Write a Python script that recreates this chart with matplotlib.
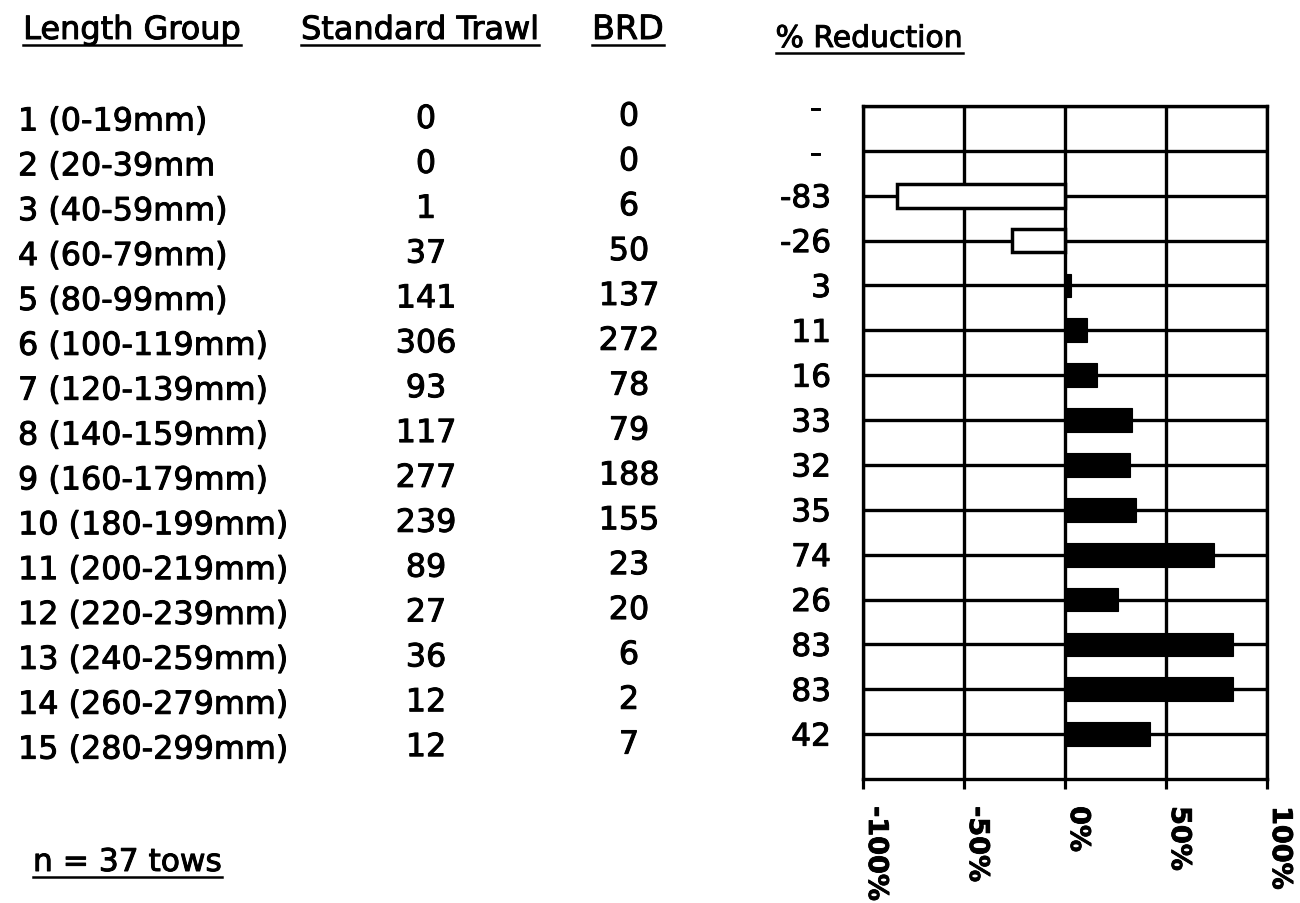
import numpy as np
import matplotlib
matplotlib.use("Agg")
import matplotlib.pyplot as plt
from matplotlib import transforms
from matplotlib import patheffects as pe
from matplotlib.lines import Line2D

# ---- data -------------------------------------------------------------
length_groups = [
    "1 (0-19mm)", "2 (20-39mm", "3 (40-59mm)", "4 (60-79mm)", "5 (80-99mm)",
    "6 (100-119mm)", "7 (120-139mm)", "8 (140-159mm)", "9 (160-179mm)",
    "10 (180-199mm)", "11 (200-219mm)", "12 (220-239mm)", "13 (240-259mm)",
    "14 (260-279mm)", "15 (280-299mm)",
]
standard_trawl = [0, 0, 1, 37, 141, 306, 93, 117, 277, 239, 89, 27, 36, 12, 12]
brd_catch = [0, 0, 6, 50, 137, 272, 78, 79, 188, 155, 23, 20, 6, 2, 7]
pct_reduction = [np.nan, np.nan, -83, -26, 3, 11, 16, 33, 32, 35, 74, 26, 83, 83, 42]
x_ticks = [-100, -50, 0, 50, 100]
x_tick_labels = ["-100%", "-50%", "0%", "50%", "100%"]
sample_note = "n = 37 tows"

# ---- figure -----------------------------------------------------------
W, H, DPI = 1300, 904, 100
plt.rcParams["font.family"] = ["DejaVu Sans"]
fig = plt.figure(figsize=(W / DPI, H / DPI), dpi=DPI)
fig.patch.set_facecolor("white")

heavy = [pe.withStroke(linewidth=0.7, foreground="black")]


def fx(px):
    return px / W


def fy(py):
    return 1 - py / H


# bar chart panel
left, right, top, bottom = 863, 1267, 107, 780
ax = fig.add_axes([fx(left), fy(bottom), (right - left) / W, (bottom - top) / H])

rows = np.arange(1, len(length_groups) + 1)
vals = np.array(pct_reduction, dtype=float)
ok = np.isfinite(vals)
neg = ok & (vals < 0)
pos = ok & (vals >= 0)

ax.barh(rows[neg], vals[neg], height=0.53, color="white", edgecolor="black",
        linewidth=2.5, zorder=3)
ax.barh(rows[pos], vals[pos], height=0.53, color="black", edgecolor="black",
        linewidth=0.8, zorder=3)

ax.set_xlim(-100, 100)
ax.set_ylim(len(length_groups) + 1, 1)
ax.set_xticks(x_ticks)
ax.set_xticklabels(x_tick_labels, rotation=-90, fontsize=19.5, fontweight="bold")
ax.set_yticks(rows)
ax.set_yticklabels(["- " if not np.isfinite(v) else f"{v:.0f}" for v in vals],
                   fontsize=22.5)
ax.tick_params(axis="y", length=0, pad=23)
ax.tick_params(axis="x", direction="out", length=7.5, width=2.3, pad=12)
ax.grid(True, color="black", linewidth=2.4)
ax.set_axisbelow(True)
for sp in ax.spines.values():
    sp.set_linewidth(2.4)
    sp.set_color("black")
for lbl in ax.get_yticklabels():
    lbl.set_path_effects(heavy)

# shift rotated tick labels slightly to the right of their ticks
shift = transforms.ScaledTranslation(13 / DPI, 0, fig.dpi_scale_trans)
for lbl in ax.get_xticklabels():
    lbl.set_transform(lbl.get_transform() + shift)
    lbl.set_path_effects([pe.withStroke(linewidth=0.6, foreground="black")])

# ---- table columns (rows follow the chart's row scale) -----------------
row_tf = transforms.blended_transform_factory(fig.transFigure, ax.transData)


def col_tf(dy_px):
    return row_tf + transforms.ScaledTranslation(0, -dy_px / DPI, fig.dpi_scale_trans)


fs = 22.9
for r, name, s, b in zip(rows, length_groups, standard_trawl, brd_catch):
    fig.text(fx(18), r, name, transform=col_tf(24.5), ha="left", va="baseline",
             fontsize=fs, path_effects=heavy)
    fig.text(fx(426), r, str(s), transform=col_tf(22), ha="center",
             va="baseline", fontsize=fs, path_effects=heavy)
    fig.text(fx(629), r, str(b), transform=col_tf(19.5), ha="center",
             va="baseline", fontsize=fs, path_effects=heavy)

# ---- underlined headers -------------------------------------------------
headers = [
    ("Length Group", 132, 40, 23),
    ("Standard Trawl", 420, 40, 23),
    ("BRD", 628, 40, 24),
    ("% Reduction", 869, 48, 21.5),
]
texts = []
for label, cx, by, size in headers:
    t = fig.text(fx(cx), fy(by), label, ha="center", va="baseline", fontsize=size,
                 path_effects=heavy)
    texts.append((t, by))
note = fig.text(fx(33), fy(872), sample_note, ha="left", va="baseline",
                fontsize=22.5, path_effects=heavy)
texts.append((note, 872))

fig.canvas.draw()
renderer = fig.canvas.get_renderer()
for t, by in texts:
    bb = t.get_window_extent(renderer)
    yline = fy(by + 6)
    fig.add_artist(Line2D([bb.x0 / W, bb.x1 / W], [yline, yline],
                          transform=fig.transFigure, color="black", linewidth=1.8))

fig.savefig("out.png", dpi=DPI, facecolor="white")
